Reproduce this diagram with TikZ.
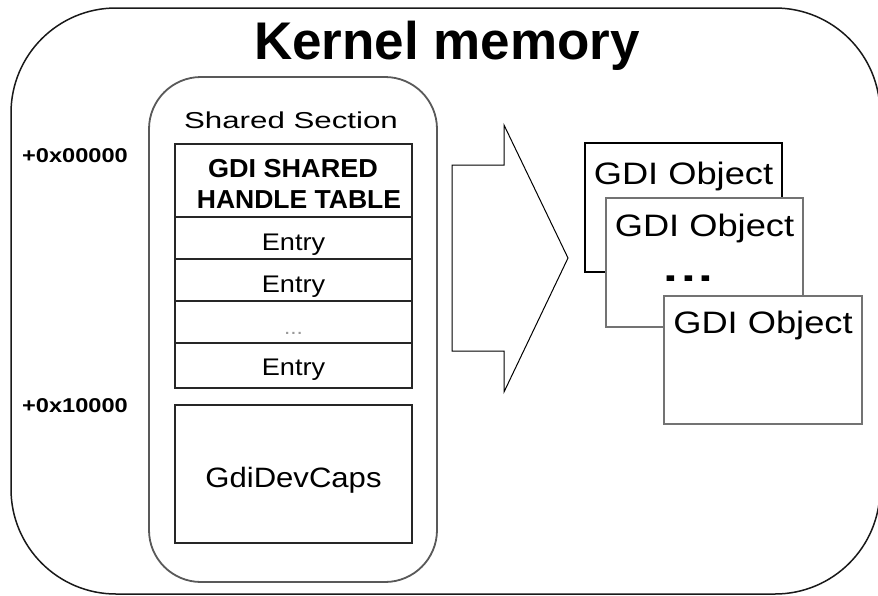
\documentclass[tikz,border=0pt]{standalone}
\usepackage{fontspec}
\setmainfont{Liberation Sans}
\usepackage{graphicx}
% font size given in pixel-like points, and a horizontal stretch helper
\newcommand\pxsize[1]{\fontsize{#1}{#1}\selectfont}
\newcommand\widen[2]{\scalebox{#1}[1]{#2}}

\tikzset{
  outerframe/.style={draw=black!90, line width=1.5pt, inner sep=0pt},
  section/.style={draw=black!65, line width=1.8pt, inner sep=0pt},
  cell/.style={draw=black!85, line width=1.8pt, inner sep=0pt,
    minimum width=237pt, text height=24pt, text depth=0pt, font=\pxsize{24}},
  objbox/.style={draw=black!55, line width=2.5pt, fill=white, inner sep=0pt,
    minimum width=197pt, minimum height=129pt},
  objtext/.style={anchor=base, inner sep=0pt, font=\pxsize{31}},
  offset/.style={anchor=base west, inner sep=0pt, font=\bfseries\pxsize{20}},
  bigarrow/.style={draw=black, line width=1pt, line join=miter},
}

\begin{document}
\begin{tikzpicture}[x=1pt, y=-1pt]
  \useasboundingbox (0,0) rectangle (878,595);
  \fill[white] (0,0) rectangle (878,595);

  % kernel memory region
  \node[outerframe, rounded corners=105pt, minimum width=869pt, minimum height=586pt]
    (kernel) at (445.5,301) {};
  \node[anchor=base, inner sep=0pt, font=\bfseries\pxsize{53}] (title) at (447,59) {Kernel memory};

  % offsets within the shared section
  \node[offset] (off0) at (22,162) {\widen{1.18}{+0x00000}};
  \node[offset] (off1) at (22,412) {\widen{1.18}{+0x10000}};

  % shared section with the handle table and device caps
  \node[section, rounded corners=52pt, minimum width=288pt, minimum height=505pt]
    (shared) at (293,329.5) {};
  \node[anchor=base, inner sep=0pt, font=\pxsize{23}] (sharedlbl) at (291,128)
    {\widen{1.36}{Shared Section}};

  \node[cell, minimum height=73pt, text height=0pt] (hdr) at (293.5,180.5) {};
  \node[anchor=base, inner sep=0pt, font=\bfseries\pxsize{26}] (hdr1) at (293,177)
    {\widen{1.04}{GDI SHARED}};
  \node[anchor=base, inner sep=0pt, font=\bfseries\pxsize{26}] (hdr2) at (299,208)
    {\widen{1.02}{HANDLE TABLE}};

  \node[cell, minimum height=42pt] (e1) at (293.5,238) {\widen{1.13}{Entry}};
  \node[cell, minimum height=42pt] (e2) at (293.5,280) {\widen{1.13}{Entry}};
  \node[cell, minimum height=42pt, font=\pxsize{20}, text=black!40] (e3) at (293.5,322) {\widen{1.13}{...}};
  \node[cell, minimum height=45pt, text height=19pt] (e4) at (293.5,365.5) {\widen{1.13}{Entry}};

  \node[cell, minimum height=138pt, text height=26pt, font=\pxsize{28}] (caps) at (293.5,474)
    {\widen{1.11}{GdiDevCaps}};

  % arrow pointing to the objects
  \draw[bigarrow] (452,165) -- (504,165) -- (504,125) -- (568,258)
    -- (504,392) -- (504,351) -- (452,351) -- cycle;

  % stacked GDI objects
  \node[objbox, draw=black, line width=1.5pt] (obj1) at (683.5,207.5) {};
  \node[objtext] (obj1lbl) at ([yshift=-42pt]obj1.north) {\widen{1.17}{GDI Object}};

  \node[objbox] (obj2) at (704.5,262.5) {};
  \node[objtext] (obj2lbl) at ([yshift=-40pt]obj2.north) {\widen{1.17}{GDI Object}};
  \node[anchor=base, inner sep=0pt, font=\bfseries\pxsize{38}] (more) at (688.5,281)
    {\widen{1.4}{.\kern2pt.\kern2pt.}};

  \node[objbox, minimum width=198pt, minimum height=128pt] (obj3) at (763,360) {};
  \node[objtext] (obj3lbl) at ([yshift=-39pt]obj3.north) {\widen{1.17}{GDI Object}};
\end{tikzpicture}
\end{document}
